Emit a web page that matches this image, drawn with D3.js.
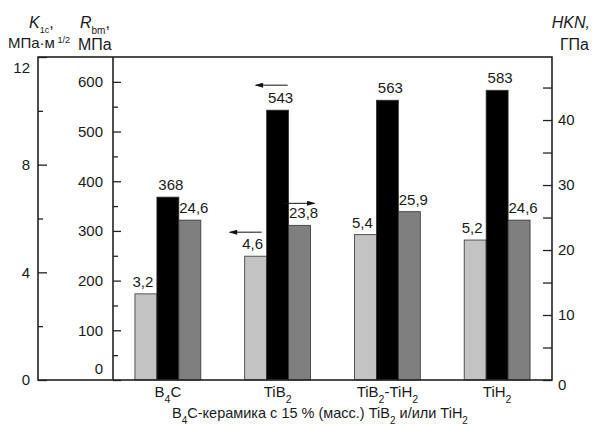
<!DOCTYPE html>
<html>
<head>
<meta charset="utf-8">
<script src="https://cdn.jsdelivr.net/npm/d3@7"></script>
<style>
  body { margin: 0; background: #fff; }
  text { font-family: "Liberation Sans", Arial, sans-serif; fill: #1a1a1a; }
</style>
</head>
<body>
<figure id="chart" style="margin:0"></figure>
<script>
// data
const categories = ["B4C", "TiB2", "TiB2-TiH2", "TiH2"];
const series = ["K1c", "Rbm", "HKN"];
const k1c = [3.2, 4.6, 5.4, 5.2];
const rbm = [368, 543, 563, 583];
const hkn = [24.6, 23.8, 25.9, 24.6];
const k1cTicks = [0, 4, 8, 12];
const rbmTicks = [0, 100, 200, 300, 400, 500, 600];
const hknTicks = [0, 10, 20, 30, 40];

const width = 595, height = 436;
const plotLeft = 38, plotInner = 113, plotRight = 552, plotTop = 57, plotBottom = 380;

const svg = d3.select("figure#chart")
  .append("svg")
  .attr("width", width)
  .attr("height", height);

// scales
const yK = d3.scaleLinear().domain([0, 12]).range([plotBottom, plotTop]);
const yR = d3.scaleLinear().domain([0, 650]).range([plotBottom, plotTop]);
const yH = d3.scaleLinear().domain([0, 49.7]).range([plotBottom, plotTop]);

const x0 = d3.scaleBand().domain(categories).range([plotInner, plotRight]).padding(0);
const x1 = d3.scaleBand().domain(series).range([0, x0.bandwidth()])
  .paddingInner(0).paddingOuter(1);

const scaleOf = { K1c: yK, Rbm: yR, HKN: yH };
const colorOf = { K1c: "#c3c3c3", Rbm: "#000000", HKN: "#7f7f7f" };
const labelShift = { K1c: -3, Rbm: 3, HKN: 4 };
const fmt = v => String(v).replace(".", ",");

const rows = [];
categories.forEach((c, i) => {
  rows.push({ cat: c, s: "K1c", v: k1c[i] });
  rows.push({ cat: c, s: "Rbm", v: rbm[i] });
  rows.push({ cat: c, s: "HKN", v: hkn[i] });
});

// bars
svg.append("g").selectAll("rect")
  .data(rows)
  .enter()
  .append("rect")
  .attr("x", d => x0(d.cat) + x1(d.s))
  .attr("y", d => scaleOf[d.s](d.v))
  .attr("width", x1.bandwidth())
  .attr("height", d => plotBottom - scaleOf[d.s](d.v))
  .attr("fill", d => colorOf[d.s])
  .attr("stroke", "#333")
  .attr("stroke-width", 0.8);

// value labels
svg.append("g").selectAll("text")
  .data(rows)
  .enter()
  .append("text")
  .attr("x", d => x0(d.cat) + x1(d.s) + x1.bandwidth() / 2 + labelShift[d.s])
  .attr("y", d => scaleOf[d.s](d.v) - 7)
  .attr("text-anchor", "middle")
  .style("font-size", "15px")
  .text(d => fmt(d.v));

// axes
function styleAxis(g) {
  g.select(".domain").remove();
  g.selectAll("line").attr("stroke", "#222").attr("stroke-width", 1.3);
  g.selectAll("text").style("font-size", "15px").attr("fill", "#1a1a1a")
    .style("font-family", '"Liberation Sans", Arial, sans-serif');
}

const kAxis = svg.append("g")
  .attr("transform", "translate(" + plotLeft + ",0)")
  .call(d3.axisLeft(yK).tickValues(k1cTicks).tickSizeInner(-9).tickSizeOuter(0).tickPadding(8))
  .call(styleAxis);
kAxis.selectAll(".tick text").filter(d => d === 12).attr("dy", "1em");
svg.append("g")
  .attr("transform", "translate(" + plotLeft + ",0)")
  .call(d3.axisLeft(yK).tickValues([2, 6, 10]).tickSizeInner(-5).tickSizeOuter(0).tickFormat(""))
  .call(styleAxis);

const rAxis = svg.append("g")
  .attr("transform", "translate(" + plotInner + ",0)")
  .call(d3.axisLeft(yR).tickValues(rbmTicks).tickSizeInner(-8).tickSizeOuter(0).tickPadding(10))
  .call(styleAxis);
rAxis.selectAll(".tick text").filter(d => d === 0).attr("dy", "-0.45em");
svg.append("g")
  .attr("transform", "translate(" + plotInner + ",0)")
  .call(d3.axisLeft(yR).tickValues(d3.range(50, 650, 100)).tickSizeInner(-5).tickSizeOuter(0).tickFormat(""))
  .call(styleAxis);

const hAxis = svg.append("g")
  .attr("transform", "translate(" + plotRight + ",0)")
  .call(d3.axisRight(yH).tickValues(hknTicks).tickSizeInner(-9).tickSizeOuter(0).tickPadding(6))
  .call(styleAxis);
hAxis.selectAll(".tick text").filter(d => d === 0).attr("dy", "0.6em");
svg.append("g")
  .attr("transform", "translate(" + plotRight + ",0)")
  .call(d3.axisRight(yH).tickValues([5, 15, 25, 35, 45]).tickSizeInner(-9).tickSizeOuter(0).tickFormat(""))
  .call(styleAxis);

// frame and inner axis line
svg.append("rect")
  .attr("x", plotLeft).attr("y", plotTop)
  .attr("width", plotRight - plotLeft).attr("height", plotBottom - plotTop)
  .attr("fill", "none").attr("stroke", "#222").attr("stroke-width", 1.6);
svg.append("line")
  .attr("x1", plotInner).attr("x2", plotInner).attr("y1", plotTop).attr("y2", plotBottom)
  .attr("stroke", "#222").attr("stroke-width", 1.6);

// category labels with subscripts
const catParts = {
  "B4C": [["B", 0], ["4", 1], ["C", 0]],
  "TiB2": [["TiB", 0], ["2", 1]],
  "TiB2-TiH2": [["TiB", 0], ["2", 1], ["-TiH", 0], ["2", 1]],
  "TiH2": [["TiH", 0], ["2", 1]]
};
function addParts(t, parts, subSize) {
  parts.forEach(p => {
    const ts = t.append("tspan").text(p[0]);
    if (p[1] === 1) ts.attr("baseline-shift", "sub").style("font-size", subSize);
  });
}
categories.forEach(c => {
  const t = svg.append("text")
    .attr("x", x0(c) + x0.bandwidth() / 2)
    .attr("y", 397)
    .attr("text-anchor", "middle")
    .style("font-size", "15px");
  addParts(t, catParts[c], "10.5px");
});

// x axis title
const xt = svg.append("text")
  .attr("x", 320).attr("y", 418)
  .attr("text-anchor", "middle")
  .style("font-size", "14.5px");
addParts(xt, [["B", 0], ["4", 1], ["C-керамика с 15 % (масс.) TiB", 0], ["2", 1], [" и/или TiH", 0], ["2", 1]], "10px");

// y axis titles
const kt = svg.append("text").attr("x", 29).attr("y", 28).style("font-size", "16px");
kt.append("tspan").text("K").style("font-style", "italic");
kt.append("tspan").text("1c").attr("baseline-shift", "sub").style("font-size", "9px");
kt.append("tspan").text(",");
const kt2 = svg.append("text").attr("x", 8).attr("y", 48).style("font-size", "15px");
kt2.append("tspan").text("МПа·м");
kt2.append("tspan").text(" 1/2").attr("baseline-shift", "super").style("font-size", "9px");

const rt = svg.append("text").attr("x", 80).attr("y", 28).style("font-size", "16px");
rt.append("tspan").text("R").style("font-style", "italic");
rt.append("tspan").text("bm").attr("baseline-shift", "sub").style("font-size", "10px");
rt.append("tspan").text(",");
svg.append("text").attr("x", 78).attr("y", 50).style("font-size", "16px").text("МПа");

svg.append("text").attr("x", 590).attr("y", 28).attr("text-anchor", "end")
  .style("font-size", "16px").style("font-style", "italic").text("HKN,");
svg.append("text").attr("x", 589).attr("y", 50).attr("text-anchor", "end")
  .style("font-size", "16px").text("ГПа");

// arrows showing which axis a series belongs to
const arrows = [
  { cat: "TiB2", s: "Rbm", v: 543, dir: -1, dx: -6, dy: -25 },
  { cat: "TiB2", s: "K1c", v: 4.6, dir: -1, dx: -10, dy: -24 },
  { cat: "TiB2", s: "HKN", v: 23.8, dir: 1, dx: -1, dy: -22 }
];
svg.append("defs").append("marker")
  .attr("id", "head")
  .attr("viewBox", "0 0 10 6")
  .attr("refX", 9).attr("refY", 3)
  .attr("markerWidth", 10).attr("markerHeight", 5)
  .attr("markerUnits", "userSpaceOnUse")
  .attr("orient", "auto")
  .append("path").attr("d", "M0,0L10,3L0,6Z").attr("fill", "#111");
arrows.forEach(a => {
  const cx = x0(a.cat) + x1(a.s) + x1.bandwidth() / 2 + a.dx;
  const cy = scaleOf[a.s](a.v) + a.dy;
  svg.append("line")
    .attr("x1", cx - a.dir * 16).attr("x2", cx + a.dir * 16)
    .attr("y1", cy).attr("y2", cy)
    .attr("stroke", "#111").attr("stroke-width", 1)
    .attr("marker-end", "url(#head)");
});
</script>
</body>
</html>
